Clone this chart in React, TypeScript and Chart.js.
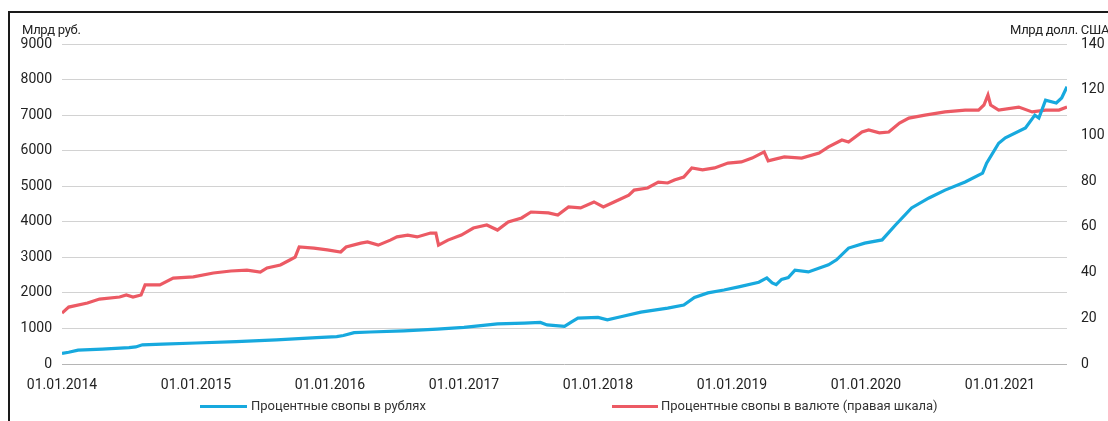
import React, { useEffect, useRef } from "react";
import { Chart, registerables } from "chart.js";

Chart.register(...registerables);

// Процентные свопы в рублях (млрд руб., левая шкала)
const RUB_DATES = [
  2014.0, 2014.05, 2014.12, 2014.3, 2014.5, 2014.55, 2014.6, 2014.75, 2015.0, 2015.3,
  2015.6, 2015.9, 2016.05, 2016.1, 2016.18, 2016.3, 2016.55, 2016.8, 2017.0, 2017.25,
  2017.45, 2017.57, 2017.62, 2017.75, 2017.8, 2017.85, 2018.0, 2018.07, 2018.17, 2018.32,
  2018.52, 2018.64, 2018.72, 2018.82, 2018.94, 2019.05, 2019.2, 2019.26, 2019.3, 2019.33,
  2019.37, 2019.42, 2019.47, 2019.57, 2019.72, 2019.78, 2019.87, 2019.99, 2020.12, 2020.22,
  2020.34, 2020.47, 2020.59, 2020.74, 2020.87, 2020.9, 2020.99, 2021.04, 2021.19, 2021.26,
  2021.29, 2021.34, 2021.42, 2021.46, 2021.5,
];
const RUB_VALUES = [
  300, 330, 390, 420, 460, 480, 540, 560, 590, 630,
  680, 740, 770, 800, 880, 900, 930, 980, 1030, 1130,
  1150, 1170, 1100, 1060, 1180, 1290, 1310, 1240, 1330, 1460,
  1570, 1660, 1870, 2000, 2080, 2170, 2300, 2420, 2280, 2230,
  2380, 2430, 2640, 2590, 2790, 2930, 3260, 3400, 3490, 3910,
  4390, 4670, 4890, 5120, 5370, 5650, 6210, 6360, 6640, 7000,
  6920, 7420, 7340, 7480, 7800,
];

// Процентные свопы в валюте (млрд долл. США, правая шкала)
const USD_DATES = [
  2014.0, 2014.05, 2014.19, 2014.28, 2014.43, 2014.48, 2014.53, 2014.59, 2014.62, 2014.73,
  2014.83, 2014.98, 2015.13, 2015.26, 2015.38, 2015.48, 2015.53, 2015.63, 2015.7, 2015.74,
  2015.77, 2015.88, 2015.98, 2016.08, 2016.12, 2016.23, 2016.28, 2016.36, 2016.45, 2016.5,
  2016.58, 2016.65, 2016.75, 2016.79, 2016.81, 2016.88, 2016.98, 2017.07, 2017.17, 2017.25,
  2017.33, 2017.43, 2017.5, 2017.63, 2017.7, 2017.78, 2017.87, 2017.97, 2018.04, 2018.12,
  2018.23, 2018.27, 2018.37, 2018.45, 2018.52, 2018.57, 2018.64, 2018.7, 2018.78, 2018.87,
  2018.97, 2019.07, 2019.15, 2019.24, 2019.27, 2019.39, 2019.52, 2019.65, 2019.72, 2019.82,
  2019.87, 2019.97, 2020.02, 2020.1, 2020.17, 2020.25, 2020.32, 2020.44, 2020.59, 2020.74,
  2020.84, 2020.88, 2020.91, 2020.93, 2020.99, 2021.14, 2021.24, 2021.34, 2021.44, 2021.5,
];
const USD_VALUES = [
  22.3, 24.9, 26.7, 28.4, 29.3, 30.2, 29.3, 30.2, 34.6, 34.6,
  37.6, 38.1, 39.8, 40.7, 41.1, 40.2, 42.0, 43.3, 45.5, 46.8,
  51.2, 50.7, 49.9, 49.0, 51.2, 52.9, 53.4, 52.0, 54.2, 55.6,
  56.4, 55.6, 57.3, 57.3, 52.0, 54.2, 56.4, 59.5, 60.8, 58.6,
  62.1, 63.9, 66.5, 66.1, 65.2, 68.7, 68.3, 70.9, 68.7, 70.9,
  73.9, 76.1, 77.0, 79.6, 79.2, 80.5, 81.8, 85.8, 84.9, 85.8,
  87.9, 88.4, 90.1, 92.8, 88.9, 90.6, 90.1, 92.3, 95.0, 98.0,
  97.1, 101.5, 102.4, 101.1, 101.5, 105.4, 107.6, 108.9, 110.3, 111.1,
  111.1, 113.3, 117.7, 113.3, 111.1, 112.4, 110.3, 111.1, 111.1, 112.4,
];

const X_TICK_YEARS = [2014, 2015, 2016, 2017, 2018, 2019, 2020, 2021];
const X_MIN = 2014;
const X_MAX = 2021.5;
const LEFT_MAX = 9000;
const LEFT_STEP = 1000;
const RIGHT_MAX = 140;
const RIGHT_STEP = 20;

const SERIES_LABELS = [
  "Процентные свопы в рублях",
  "Процентные свопы в валюте (правая шкала)",
];
const LEFT_TITLE = "Млрд руб.";
const RIGHT_TITLE = "Млрд долл. США";

const BLUE = "#17a9de";
const RED = "#ec5a64";
const FONT = "Roboto, 'Noto Sans', sans-serif";
const TEXT = "#222";

export default function App() {
  const ref = useRef<HTMLCanvasElement | null>(null);

  useEffect(() => {
    if (!ref.current) return;
    const chart = new Chart(ref.current, {
      type: "line",
      data: {
        datasets: [
          {
            label: SERIES_LABELS[0],
            data: RUB_DATES.map((x, i) => ({ x, y: RUB_VALUES[i] })),
            borderColor: BLUE,
            backgroundColor: BLUE,
            borderWidth: 3.2,
            pointRadius: 0,
            tension: 0,
            yAxisID: "y",
          },
          {
            label: SERIES_LABELS[1],
            data: USD_DATES.map((x, i) => ({ x, y: USD_VALUES[i] })),
            borderColor: RED,
            backgroundColor: RED,
            borderWidth: 3.2,
            pointRadius: 0,
            tension: 0,
            yAxisID: "y1",
          },
        ],
      },
      options: {
        animation: false,
        responsive: false,
        maintainAspectRatio: false,
        devicePixelRatio: 1,
        layout: { padding: { top: 31, left: 0, right: 0, bottom: 0 } },
        plugins: {
          legend: { display: false },
          tooltip: { enabled: false },
        },
        scales: {
          x: {
            type: "linear",
            min: X_MIN,
            max: X_MAX,
            afterBuildTicks: (scale: any) => {
              scale.ticks = X_TICK_YEARS.map((v) => ({ value: v }));
            },
            afterFit: (scale: any) => {
              scale.height = 57;
            },
            grid: { display: false, drawTicks: false },
            border: { display: false },
            ticks: {
              autoSkip: false,
              maxRotation: 0,
              padding: 13,
              color: TEXT,
              font: { family: FONT, size: 14 },
              callback: (v: any) => "01.01." + v,
            },
          },
          y: {
            type: "linear",
            position: "left",
            min: 0,
            max: LEFT_MAX,
            afterFit: (scale: any) => {
              scale.width = 52;
            },
            grid: {
              color: (ctx: any) => (ctx.tick && ctx.tick.value === 0 ? "#b5b5b5" : "#d2d2d2"),
              lineWidth: 1,
              drawTicks: false,
            },
            border: { display: false },
            ticks: {
              stepSize: LEFT_STEP,
              padding: 10,
              color: TEXT,
              font: { family: FONT, size: 14 },
              callback: (v: any) => String(v),
            },
          },
          y1: {
            type: "linear",
            position: "right",
            min: 0,
            max: RIGHT_MAX,
            afterFit: (scale: any) => {
              scale.width = 41;
            },
            grid: { display: false, drawTicks: false },
            border: { display: false },
            ticks: {
              stepSize: RIGHT_STEP,
              padding: 14,
              color: TEXT,
              font: { family: FONT, size: 14 },
              callback: (v: any) => String(v),
            },
          },
        },
      },
    });
    return () => chart.destroy();
  }, []);

  const legendText: React.CSSProperties = {
    position: "absolute",
    top: 385,
    fontFamily: FONT,
    fontSize: 13,
    color: "#333",
    whiteSpace: "nowrap",
    lineHeight: "16px",
  };
  const titleText: React.CSSProperties = {
    position: "absolute",
    top: 9,
    fontFamily: FONT,
    fontSize: 13,
    color: TEXT,
    whiteSpace: "nowrap",
    lineHeight: "16px",
    letterSpacing: "-0.3px",
  };

  return (
    <div
      style={{
        position: "absolute",
        left: 8,
        top: 11,
        width: 1100,
        height: 410,
        boxSizing: "border-box",
        borderTop: "2px solid #1a1a1a",
        borderLeft: "2px solid #1a1a1a",
        overflow: "hidden",
        background: "#fff",
      }}
    >
      <canvas ref={ref} width={1098} height={408} style={{ position: "absolute", left: 0, top: 0 }} />
      <div style={{ ...titleText, left: 12 }}>{LEFT_TITLE}</div>
      <div style={{ ...titleText, left: 1000 }}>{RIGHT_TITLE}</div>
      <div style={{ position: "absolute", left: 190, top: 392, width: 47, height: 3, background: BLUE }} />
      <div style={{ ...legendText, left: 241 }}>{SERIES_LABELS[0]}</div>
      <div style={{ position: "absolute", left: 602, top: 392, width: 46, height: 3, background: RED }} />
      <div style={{ ...legendText, left: 651 }}>{SERIES_LABELS[1]}</div>
    </div>
  );
}
